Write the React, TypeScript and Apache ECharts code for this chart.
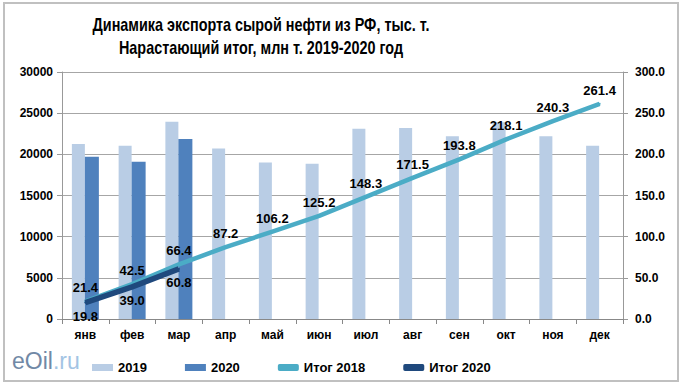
import React, { useEffect, useRef } from "react";
import * as echarts from "echarts";

const months = ["янв", "фев", "мар", "апр", "май", "июн", "июл", "авг", "сен", "окт", "ноя", "дек"];
const exp2019 = [21250, 21050, 23950, 20700, 19000, 18850, 23100, 23200, 22200, 23900, 22200, 21050];
const exp2020: (number | null)[] = [19700, 19100, 21850, null, null, null, null, null, null, null, null, null];
const total2018 = [21.4, 42.5, 66.4, 87.2, 106.2, 125.2, 148.3, 171.5, 193.8, 218.1, 240.3, 261.4];
const total2020: (number | null)[] = [19.8, 39.0, 60.8, null, null, null, null, null, null, null, null, null];
const titleLines = ["Динамика экспорта сырой нефти из РФ, тыс. т.", "Нарастающий итог, млн т. 2019-2020 год"];

const FONT = "'Liberation Sans', Arial, sans-serif";

const fmt1 = (p: any) => {
  const v = Array.isArray(p.value) ? p.value[1] : p.value;
  return v == null || v === "-" ? "" : Number(v).toFixed(1);
};

export default function App() {
  const ref = useRef<HTMLDivElement>(null);
  useEffect(() => {
    if (!ref.current) return;
    const chart = echarts.init(ref.current, undefined, { renderer: "svg" });
    const labelStyle = { fontFamily: FONT, fontWeight: "bold" as const, fontSize: 13, color: "#000", opacity: 1 };
    chart.setOption({
      animation: false,
      backgroundColor: "#fff",
      textStyle: { fontFamily: FONT },
      graphic: [
        {
          type: "rect",
          shape: { x: 4, y: 3, width: 674, height: 378 },
          style: { fill: "none", stroke: "#c0c0c0", lineWidth: 2 },
          silent: true,
        },
        {
          type: "text",
          x: 261,
          y: 24,
          scaleX: 0.8,
          style: {
            text: titleLines[0],
            fontFamily: FONT,
            fontWeight: "bold",
            fontSize: 18,
            fill: "#000",
            textAlign: "center",
            textVerticalAlign: "middle",
          },
        },
        {
          type: "text",
          x: 261,
          y: 47,
          scaleX: 0.8,
          style: {
            text: titleLines[1],
            fontFamily: FONT,
            fontWeight: "bold",
            fontSize: 18,
            fill: "#000",
            textAlign: "center",
            textVerticalAlign: "middle",
          },
        },
        {
          type: "text",
          left: 12,
          top: 349,
          style: {
            text: "{a|eOil}{b|.ru}",
            rich: {
              a: { fontFamily: FONT, fontSize: 23, fill: "#7189a6" },
              b: { fontFamily: FONT, fontSize: 23, fill: "#a3c4e4" },
            },
          },
        },
      ],
      legend: {
        left: 87,
        top: 356,
        itemGap: 38,
        itemWidth: 21,
        itemHeight: 7,
        textStyle: { fontFamily: FONT, fontWeight: "bold", fontSize: 13, color: "#000" },
        data: [
          { name: "2019", icon: "rect" },
          { name: "2020", icon: "rect" },
          { name: "Итог 2018", icon: "roundRect" },
          { name: "Итог 2020", icon: "roundRect" },
        ],
      },
      grid: { left: 62, right: 59, top: 72, bottom: 70 },
      xAxis: {
        type: "category",
        data: months,
        boundaryGap: true,
        axisLine: { lineStyle: { color: "#888", width: 1 } },
        axisTick: { show: true, alignWithLabel: false, length: 5, lineStyle: { color: "#888" } },
        axisLabel: { fontFamily: FONT, fontWeight: "bold", fontSize: 12, color: "#000", margin: 10 },
      },
      yAxis: [
        {
          type: "value",
          min: 0,
          max: 30000,
          interval: 5000,
          axisLine: { show: true, lineStyle: { color: "#999" } },
          axisTick: { show: true, length: 5, lineStyle: { color: "#999" } },
          splitLine: { lineStyle: { color: "#a6a6a6", width: 1 } },
          axisLabel: {
            fontFamily: FONT,
            fontWeight: "bold",
            fontSize: 12,
            color: "#000",
            margin: 9,
            formatter: (v: number) => String(v),
          },
        },
        {
          type: "value",
          min: 0,
          max: 300,
          interval: 50,
          position: "right",
          axisLine: { show: true, lineStyle: { color: "#999" } },
          axisTick: { show: true, length: 5, lineStyle: { color: "#999" } },
          splitLine: { show: false },
          axisLabel: {
            fontFamily: FONT,
            fontWeight: "bold",
            fontSize: 12,
            color: "#000",
            margin: 12,
            formatter: (v: number) => v.toFixed(1),
          },
        },
      ],
      series: [
        {
          name: "2019",
          type: "bar",
          data: exp2019,
          barWidth: 13,
          barGap: "0%",
          itemStyle: { color: "#b9cde5" },
        },
        {
          name: "2020",
          type: "bar",
          data: exp2020,
          barWidth: 14,
          barGap: "0%",
          itemStyle: { color: "#4f81bd" },
        },
        {
          name: "Итог 2018",
          type: "line",
          yAxisIndex: 1,
          data: total2018,
          symbol: "circle",
          symbolSize: 2,
          showSymbol: true,
          lineStyle: { color: "#4bacc6", width: 4.5 },
          itemStyle: { color: "#4bacc6" },
          label: { show: true, position: "top", distance: 6, ...labelStyle, formatter: fmt1 },
          labelLayout: { hideOverlap: false },
          z: 3,
        },
        {
          name: "Итог 2020",
          type: "line",
          yAxisIndex: 1,
          data: total2020,
          symbol: "circle",
          symbolSize: 2,
          showSymbol: true,
          lineStyle: { color: "#1f497d", width: 5.5 },
          itemStyle: { color: "#1f497d" },
          label: { show: true, position: "bottom", distance: 6, ...labelStyle, formatter: fmt1 },
          labelLayout: { hideOverlap: false },
          z: 4,
        },
      ],
    });
    return () => chart.dispose();
  }, []);
  return <div ref={ref} style={{ width: 682, height: 389, position: "absolute", left: 0, top: 0 }} />;
}
